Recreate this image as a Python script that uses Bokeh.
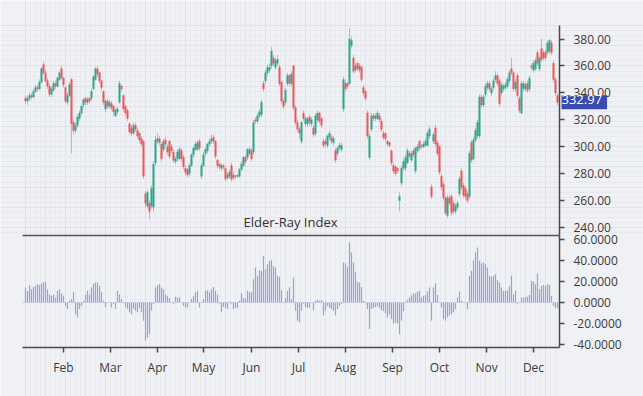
from bokeh.plotting import figure
from bokeh.models import (ColumnDataSource, FixedTicker, Label, Range1d, LinearAxis,
                          NumeralTickFormatter, SingleIntervalTicker, CustomJSTickFormatter)
from bokeh.embed import file_html
from bokeh.resources import INLINE

# ---------------- data ----------------
open_ = [336, 334, 336, 338, 337, 341, 344, 343, 348, 361,
         355, 349, 345, 339, 342, 347, 345, 350, 358, 351,
         344, 333, 338, 350, 318, 312, 316, 321, 325, 331,
         336, 333, 336, 336, 343, 350, 358, 355, 349, 341,
         328, 334, 330, 332, 330, 323, 326, 333, 345, 338,
         330, 327, 317, 314, 310, 316, 312, 310, 306, 304,
         265, 256, 258, 256, 255, 288, 304, 306, 302, 298,
         305, 300, 304, 300, 296, 289, 291, 291, 297, 292,
         284, 283, 280, 286, 294, 298, 298, 304, 278, 286,
         295, 297, 302, 304, 307, 304, 290, 287, 284, 286,
         284, 277, 278, 286, 279, 278, 278, 278, 283, 286,
         292, 292, 295, 297, 296, 320, 319, 323, 324, 347,
         349, 355, 357, 360, 366, 359, 362, 359, 348, 334,
         333, 347, 353, 347, 360, 329, 318, 313, 304, 325,
         317, 317, 322, 317, 314, 310, 320, 325, 321, 304,
         304, 301, 307, 307, 303, 297, 295, 299, 298, 328,
         347, 347, 347, 375, 366, 357, 362, 360, 359, 344,
         341, 325, 292, 313, 323, 321, 321, 323, 319, 310,
         310, 304, 303, 297, 286, 285, 284, 260, 273, 284,
         284, 288, 295, 290, 297, 282, 297, 304, 300, 300,
         301, 301, 308, 270, 304, 314, 303, 300, 278, 272,
         262, 249, 262, 263, 258, 252, 255, 265, 282, 271,
         269, 265, 263, 303, 291, 305, 308, 308, 337, 331,
         339, 344, 347, 340, 344, 350, 353, 349, 340, 343,
         344, 345, 349, 358, 355, 343, 353, 336, 325, 343,
         343, 347, 343, 360, 357, 358, 370, 358, 373, 370,
         370, 370, 371, 377, 362, 350, 338]
close = [334, 336, 338, 337, 341, 344, 343, 348, 358, 355,
         349, 345, 339, 343, 347, 345, 351, 355, 351, 346,
         334, 338, 346, 317, 312, 316, 322, 325, 330, 335,
         333, 335, 334, 341, 352, 358, 354, 349, 344, 333,
         334, 330, 333, 329, 326, 327, 328, 347, 343, 328,
         325, 321, 311, 310, 316, 313, 308, 305, 302, 278,
         258, 266, 252, 269, 287, 305, 306, 303, 291, 304,
         302, 296, 293, 297, 290, 291, 296, 298, 291, 285,
         281, 279, 286, 294, 299, 302, 303, 299, 286, 294,
         298, 302, 304, 306, 304, 293, 286, 285, 286, 285,
         276, 279, 281, 276, 277, 278.4, 278.5, 283, 287, 292,
         289, 298, 298, 291, 318, 319, 323, 326, 333, 343,
         355, 359, 359, 371, 362, 364, 365, 347, 334, 330,
         342, 353, 347, 354, 329, 318, 313, 310, 318, 321,
         321, 321, 318, 320, 309, 323, 325, 319, 316, 301,
         302, 308, 310, 304, 306, 290, 299, 301, 301, 350,
         343, 345, 380, 379, 356, 360, 358, 357, 350, 340,
         336, 308, 308, 323, 321, 323, 325, 320, 313, 307,
         306, 302, 301, 288, 282, 280, 282, 263, 284, 289,
         292, 297, 293, 295, 294, 299, 300, 299, 300.5, 302,
         304, 310, 313, 263, 309, 302, 295, 281, 270, 262,
         251, 262, 258, 251, 252, 256, 258, 276, 270, 264,
         263, 260, 295, 290, 305, 312, 318, 337, 331, 337,
         345, 347, 343, 343, 349, 353, 347, 332, 346, 345,
         346, 350, 355, 355, 343, 348, 338, 327, 347, 347,
         346, 342, 351, 359, 362, 364, 362, 366, 365, 366,
         366, 377, 379, 370, 350, 340, 332.97]
high = [338, 338, 340, 340, 343, 346, 346, 350, 359, 363,
        357, 351, 347, 345, 349, 349, 352, 356, 360, 352,
        345, 340, 348, 351, 320, 318, 324, 327, 331, 336,
        337, 337, 337, 343, 353, 359, 360, 356, 350, 342,
        335, 336, 335, 334, 331, 329, 330, 349, 346, 339,
        331, 328, 318, 316, 318, 318, 314, 311, 308, 305,
        267, 268, 260, 271, 289, 308, 310, 308, 303, 306,
        307, 302, 305, 302, 298, 293, 298, 300, 299, 294,
        286, 284, 288, 295, 300, 304, 305, 306, 288, 296,
        300, 303, 306, 309, 309, 305, 291, 288, 288, 287,
        285, 281, 283, 288, 281, 279, 280, 284, 289, 293,
        294, 299, 300, 299, 320, 322, 325, 328, 335, 349,
        357, 361, 362, 374, 368, 366, 368, 361, 349, 336,
        344, 355, 354, 356, 361, 331, 320, 315, 319, 327,
        323, 322, 324, 322, 316, 325, 327, 326, 322, 306,
        306, 309, 312, 309, 308, 299, 300, 303, 303, 352,
        349, 348, 388, 382, 368, 362, 363, 362, 360, 346,
        342, 327, 310, 325, 325, 325, 327, 325, 321, 312,
        311, 305, 304, 298, 288, 286, 285, 266, 286, 291,
        294, 299, 297, 297, 299, 300, 302, 305, 302, 304,
        306, 312, 315, 272, 311, 316, 305, 301, 280, 274,
        263, 264, 264, 265, 260, 258, 260, 278, 284, 273,
        271, 267, 297, 305, 307, 314, 320, 339, 339, 339,
        347, 349, 349, 345, 351, 356, 355, 351, 348, 347,
        348, 352, 357, 366, 356, 350, 355, 338, 349, 349,
        348, 349, 353, 362, 364, 366, 372, 368, 380, 372,
        372, 379, 380, 379, 364, 352, 340]
low = [332, 331, 334, 335, 336, 340, 341, 342, 347, 354,
       348, 343, 337, 337, 341, 343, 344, 349, 350, 344,
       332, 331, 337, 295, 309, 310, 314, 319, 323, 329,
       331, 331, 332, 334, 342, 349, 352, 347, 342, 331,
       326, 328, 328, 327, 323, 322, 324, 332, 341, 326,
       323, 319, 309, 308, 309, 311, 306, 303, 300, 276,
       255, 254, 246, 254, 252, 286, 302, 301, 289, 296,
       300, 294, 291, 295, 288, 287, 289, 290, 289, 283,
       279, 277, 278, 285, 292, 297, 297, 297, 276, 285,
       293, 295, 300, 302, 302, 291, 284, 283, 282, 283,
       274, 275, 276, 274, 275, 276, 277, 277, 282, 285,
       287, 290, 294, 289, 294, 317, 317, 321, 322, 341,
       347, 353, 355, 358, 360, 357, 360, 345, 332, 328,
       331, 345, 345, 345, 327, 316, 311, 306, 302, 319,
       315, 315, 316, 315, 307, 308, 318, 317, 314, 299,
       300, 299, 305, 302, 301, 288, 293, 297, 296, 326,
       341, 343, 346, 373, 354, 355, 356, 355, 348, 338,
       334, 306, 290, 311, 319, 319, 320, 318, 311, 305,
       304, 300, 299, 286, 280, 278, 280, 252, 271, 282,
       282, 287, 291, 289, 292, 280, 295, 297, 298, 299,
       300, 300, 306, 261, 302, 300, 293, 279, 268, 260,
       249, 247, 256, 249, 250, 250, 253, 263, 268, 262,
       261, 258, 261, 288, 290, 303, 306, 306, 329, 329,
       337, 342, 341, 338, 342, 348, 345, 330, 338, 341,
       342, 343, 347, 353, 341, 341, 336, 325, 324, 341,
       341, 340, 341, 357, 355, 356, 360, 356, 363, 364,
       364, 368, 369, 368, 348, 338, 331]
elder = [14.6, 11, 16.8, 13, 15, 16, 17.8, 16.8, 18.4, 19.4,
         20, 13, 8, 6.7, 8, 5, 11.4, 13, 9, 6.7,
         -3, -6, 2, 3.5, 10, -11, -14, -6, -3, 2,
         8, 11.4, 8, 14.6, 17.8, 19.4, 19.4, 16, 10, 2,
         -4, 0.5, 0.5, -4.4, -1, -6, 11.4, 8, 3.5, 0.5,
         -4, -6, -9, -11, -6, -7.6, -9, -5, -9, -17,
         -36, -33, -30, -7.6, -1, 14.6, 17, 17.8, 14.6, 13,
         8, 6.7, 4.4, 0.5, -1, 5.7, 5, 5, 0.5, -3,
         -4.4, -4.4, 0.5, 3.5, 6.7, 10, 11.4, -4.4, 0.5, 3.5,
         11.4, 12, 10, 13, 15, 11.4, 8, -1, -9, -4,
         -5, -6, 1.3, -1, -6, -4.4, -5, 2, 9, 4.4,
         4.4, 11.4, 10, 10, 22.5, 33.6, 25.7, 31, 30.5, 44.8,
         32, 36.8, 40, 40.6, 35, 33.6, 25.7, 24.8, 12, 0.5,
         4.4, 11.4, 14.6, 3.5, 24, -7.6, -17, -18.7, -7.6, -1,
         -4, -5, -4.4, 0.5, -7, 2, 3, 2, 2.5, -12,
         -7.6, -3, -5, -6, -7.6, -12, -6, -3, -1, 38.4,
         37.5, 34.3, 57.5, 48, 38.4, 29, 20, 19.4, 15, 2,
         1, -6, -25, -6, -5, -4, -3, -5, -7, -8,
         -10, -14, -11, -15.6, -20, -18.7, -20, -30, -17, -8,
         1, 3, 5, 7, 9, 9, 10.8, 11.4, 5, 6.7,
         7.6, 11, 14.6, -17, 14.6, 18.4, 7.6, 0, -4.4, -15.6,
         -17, -14, -12, -11, -9, -6, 5, 10.8, 2, 0.3,
         0.5, -6, 25.7, 30.5, 40.6, 48, 52.7, 40, 37.5, 38.4,
         36.8, 33.6, 25.7, 24.8, 25.7, 27.3, 21.6, 19.4, 14.6, 11.4,
         11.4, 12, 16, 25.7, 8, 11.4, -1, 0.3, 5, 5,
         5.7, 5.7, 7.6, 21, 20.3, 17.8, 28, 13, 16, 17,
         16, 17.8, 17, 6.7, -3, -5, -5]
month_labels = ["Feb", "Mar", "Apr", "May", "Jun", "Jul", "Aug", "Sep", "Oct", "Nov", "Dec"]
month_start_index = [19, 42.5, 66, 89, 113, 136.5, 160, 183.5, 207, 230.5, 254]
price_ticks = [240, 260, 280, 300, 320, 340, 360, 380]
elder_ticks = [-40, -20, 0, 20, 40, 60]
indicator_title = "Elder-Ray Index"

# ---------------- styling ----------------
BG = "#f0f1f5"
GRID_MAJOR = "#e0e2ea"
GRID_MINOR = "#e8e9ef"
UP = "#2fa88e"
DOWN = "#ec5a5e"
ELDER_COLOR = "#9ba2d8"
AXIS = "#4a4a4a"
TEXT = "#3a3a3a"
FONT = "Open Sans"
BADGE = "#3a4bb0"

n = len(close)
xs = list(range(n))
colors = [UP if c >= o else DOWN for o, c in zip(open_, close)]
src = ColumnDataSource(dict(
    x=xs, open=open_, close=close, high=high, low=low,
    top=[max(o, c) for o, c in zip(open_, close)],
    bottom=[min(o, c) for o, c in zip(open_, close)],
    color=colors))
esrc = ColumnDataSource(dict(x=xs, elder=elder))

# view windows of the two panes (price pane on top, Elder-Ray pane below)
x_lo, x_hi = -1.5, 267.0
price_lo, price_hi = 234.0, 390.1
elder_lo, elder_hi = -42.6, 64.1

# one frame covering the whole canvas; panes are laid out through the ranges
p = figure(width=643, height=396, output_backend="svg", toolbar_location=None,
           x_range=Range1d(-12.5, 309.0), y_range=Range1d(114.33, 408.68),
           x_axis_location=None, y_axis_location=None,
           min_border_left=0, min_border_right=0, min_border_top=0, min_border_bottom=0,
           background_fill_color=BG, border_fill_color=BG, outline_line_color=None)
p.extra_y_ranges = {"elder": Range1d(-89.28, 288.0)}

p.xgrid.ticker = SingleIntervalTicker(interval=10, num_minor_ticks=4)
p.ygrid.ticker = SingleIntervalTicker(interval=15, num_minor_ticks=4)
for g in (p.xgrid, p.ygrid):
    g.grid_line_color = GRID_MAJOR
    g.grid_line_width = 1
    g.minor_grid_line_color = GRID_MINOR
    g.minor_grid_line_width = 1


def style_axis(ax):
    ax.axis_line_color = AXIS
    ax.axis_line_width = 1.5
    ax.major_tick_line_color = AXIS
    ax.major_tick_line_width = 1.5
    ax.major_tick_out = 5
    ax.major_tick_in = 0
    ax.minor_tick_line_color = None
    ax.major_label_text_font = FONT
    ax.major_label_text_font_size = "12px"
    ax.major_label_text_color = TEXT


# price axis (right edge of the panes)
price_axis = LinearAxis(fixed_location=x_hi, bounds=(price_lo, price_hi),
                        ticker=FixedTicker(ticks=price_ticks),
                        formatter=NumeralTickFormatter(format="0.00"))
style_axis(price_axis)
price_axis.major_label_standoff = 9
p.add_layout(price_axis, "right")

# Elder-Ray axis
elder_axis = LinearAxis(y_range_name="elder", fixed_location=x_hi, bounds=(elder_lo, elder_hi),
                        ticker=FixedTicker(ticks=elder_ticks),
                        formatter=NumeralTickFormatter(format="0.0000"))
style_axis(elder_axis)
elder_axis.major_label_standoff = 9
p.add_layout(elder_axis, "right")

# month axis at the bottom of the Elder-Ray pane
month_axis = LinearAxis(y_range_name="elder", fixed_location=elder_lo, bounds=(x_lo, x_hi),
                        ticker=FixedTicker(ticks=month_start_index),
                        formatter=CustomJSTickFormatter(
                            args=dict(pos=month_start_index, labs=month_labels),
                            code="const i = pos.indexOf(tick); return i >= 0 ? labs[i] : '';"))
style_axis(month_axis)
month_axis.major_label_standoff = 6
p.add_layout(month_axis, "below")

# divider between the panes (an axis line without ticks)
divider = LinearAxis(fixed_location=price_lo, bounds=(x_lo, x_hi),
                     ticker=FixedTicker(ticks=[]))
divider.axis_line_color = "#555555"
divider.axis_line_width = 1.6
divider.major_tick_line_color = None
divider.minor_tick_line_color = None
divider.major_label_text_font_size = "0px"
p.add_layout(divider, "below")

# Elder-Ray zero line
zero_axis = LinearAxis(y_range_name="elder", fixed_location=0, bounds=(x_lo, x_hi),
                       ticker=FixedTicker(ticks=[]))
zero_axis.axis_line_color = "#c9cce0"
zero_axis.axis_line_width = 1
zero_axis.major_tick_line_color = None
zero_axis.minor_tick_line_color = None
zero_axis.major_label_text_font_size = "0px"
p.add_layout(zero_axis, "below")

# candles
p.segment(x0="x", y0="low", x1="x", y1="high", line_color="color",
          line_alpha=0.5, line_width=1, source=src)
p.vbar(x="x", width=0.8, top="top", bottom="bottom", fill_color="color",
       line_color="color", line_width=0.4, source=src)

# Elder-Ray histogram
p.vbar(x="x", width=0.6, top="elder", bottom=0, fill_color=ELDER_COLOR,
       line_color=None, source=esrc, y_range_name="elder")

p.add_layout(Label(x=132.5, y=244.2, text=indicator_title, text_align="center",
                   text_baseline="middle", text_font=FONT, text_font_size="13px",
                   text_color="#333333"))
# last-price badge on the price axis
p.add_layout(Label(x=x_hi, y=close[-1], x_offset=2, text=f"{close[-1]:.2f}",
                   text_align="left", text_baseline="middle", text_font=FONT,
                   text_font_size="13px", text_color="white",
                   background_fill_color=BADGE, background_fill_alpha=1.0,
                   padding=(0, 5, 0, 5), level="overlay"))

open("out.html", "w").write(file_html(p, INLINE))
